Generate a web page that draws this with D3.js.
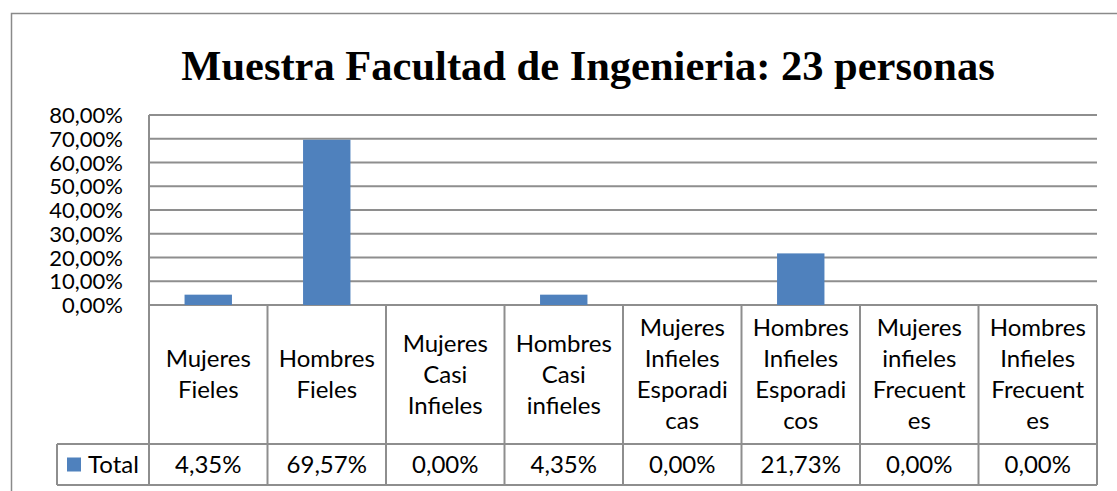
<!DOCTYPE html>
<html>
<head>
<meta charset="utf-8">
<script src="https://cdn.jsdelivr.net/npm/d3@7"></script>
<style>
body { margin: 0; background: #fff; }
text { font-family: Lato, "Noto Sans", sans-serif; font-size: 24px; fill: #000; }
.title { font-family: "Liberation Serif", "Times New Roman", serif; font-weight: bold; font-size: 42.5px; }
.y-tick text { font-size: 22px; }
.grid-line, .table-line { stroke: #8e8e8e; stroke-width: 2; fill: none; }
</style>
</head>
<body>
<script>
var titleText = "Muestra Facultad de Ingenieria: 23 personas";
var seriesName = "Total";
// category labels, broken the way the table cells wrap them
var categories = [
	["Mujeres", "Fieles"],
	["Hombres", "Fieles"],
	["Mujeres", "Casi", "Infieles"],
	["Hombres", "Casi", "infieles"],
	["Mujeres", "Infieles", "Esporadi", "cas"],
	["Hombres", "Infieles", "Esporadi", "cos"],
	["Mujeres", "infieles", "Frecuent", "es"],
	["Hombres", "Infieles", "Frecuent", "es"]
];
var values = [4.35, 69.57, 0.00, 4.35, 0.00, 21.73, 0.00, 0.00];
var yTicks = [0, 10, 20, 30, 40, 50, 60, 70, 80];

var width = 1117, height = 491;
var plot = { left: 149, right: 1097, top: 115, bottom: 305 };
var table = { legendLeft: 57, headerBottom: 444, bottom: 485 };
var lineHeight = 31;

var locale = d3.formatLocale({ decimal: ",", thousands: ".", grouping: [3], currency: ["", ""] });
var pct = d => locale.format(".2f")(d) + "%";

var svg = d3.select("body").append("svg")
	.attr("width", width)
	.attr("height", height);

// chart frame, cut off by the window on the right and at the bottom
svg.append("rect")
	.attr("x", 11.5)
	.attr("y", 13.5)
	.attr("width", 1300)
	.attr("height", 700)
	.style("fill", "none")
	.style("stroke", "#8a8a8a")
	.style("stroke-width", 1.5);

svg.append("text")
	.attr("class", "title")
	.attr("x", 588)
	.attr("y", 80)
	.attr("text-anchor", "middle")
	.text(titleText);

var x = d3.scaleBand()
	.domain(d3.range(categories.length))
	.range([plot.left, plot.right])
	.padding(0);

var y = d3.scaleLinear()
	.domain([0, 80])
	.range([plot.bottom, plot.top]);

// gridlines
svg.append("g").selectAll("line")
	.data(yTicks)
	.enter().append("line")
	.attr("class", "grid-line")
	.attr("x1", plot.left)
	.attr("x2", plot.right)
	.attr("y1", d => y(d))
	.attr("y2", d => y(d));

var yAxis = d3.axisLeft(y)
	.tickValues(yTicks)
	.tickFormat(pct)
	.tickSize(0)
	.tickPadding(26);

var yAxisElem = svg.append("g")
	.attr("class", "y-tick")
	.attr("transform", "translate(" + plot.left + ",0)")
	.call(yAxis);
yAxisElem.select(".domain").remove();
yAxisElem.attr("font-family", null).attr("font-size", null);
yAxisElem.selectAll("text")
	.attr("dy", "0.35em");

// bars
var barWidth = x.bandwidth() * 0.4;
svg.append("g").selectAll("rect")
	.data(values)
	.enter().append("rect")
	.attr("x", (d, i) => x(i) + (x.bandwidth() - barWidth) / 2)
	.attr("y", d => y(d))
	.attr("width", barWidth)
	.attr("height", d => y(0) - y(d))
	.style("fill", "#4f81bd");

// data table
var tbl = svg.append("g");
var bounds = d3.range(categories.length).map(i => x(i)).concat([plot.right]);

tbl.append("line").attr("class", "table-line")
	.attr("x1", plot.left).attr("x2", plot.left)
	.attr("y1", plot.top).attr("y2", table.bottom);

tbl.selectAll("line.col")
	.data(bounds.slice(1))
	.enter().append("line")
	.attr("class", "table-line col")
	.attr("x1", d => d).attr("x2", d => d)
	.attr("y1", plot.bottom).attr("y2", table.bottom);

tbl.append("line").attr("class", "table-line")
	.attr("x1", table.legendLeft).attr("x2", plot.right)
	.attr("y1", table.headerBottom).attr("y2", table.headerBottom);
tbl.append("line").attr("class", "table-line")
	.attr("x1", table.legendLeft).attr("x2", plot.right)
	.attr("y1", table.bottom).attr("y2", table.bottom);
tbl.append("line").attr("class", "table-line")
	.attr("x1", table.legendLeft).attr("x2", table.legendLeft)
	.attr("y1", table.headerBottom).attr("y2", table.bottom);

var headerMid = (plot.bottom + table.headerBottom) / 2;
tbl.selectAll("text.cat")
	.data(categories)
	.enter().append("text")
	.attr("class", "cat")
	.attr("text-anchor", "middle")
	.each(function (lines, i) {
		var t = d3.select(this);
		var y0 = headerMid - (lines.length - 1) * lineHeight / 2;
		lines.forEach((s, k) => {
			t.append("tspan")
				.attr("x", x(i) + x.bandwidth() / 2)
				.attr("y", y0 + k * lineHeight)
				.attr("dy", "0.35em")
				.text(s);
		});
	});

var rowMid = (table.headerBottom + table.bottom) / 2;
tbl.selectAll("text.val")
	.data(values)
	.enter().append("text")
	.attr("class", "val")
	.attr("text-anchor", "middle")
	.attr("x", (d, i) => x(i) + x.bandwidth() / 2)
	.attr("y", rowMid)
	.attr("dy", "0.35em")
	.text(pct);

// legend key in the row header
tbl.append("rect")
	.attr("x", 67)
	.attr("y", rowMid - 7)
	.attr("width", 14)
	.attr("height", 14)
	.style("fill", "#4f81bd");
tbl.append("text")
	.attr("x", 88)
	.attr("y", rowMid)
	.attr("dy", "0.35em")
	.text(seriesName);
</script>
</body>
</html>
